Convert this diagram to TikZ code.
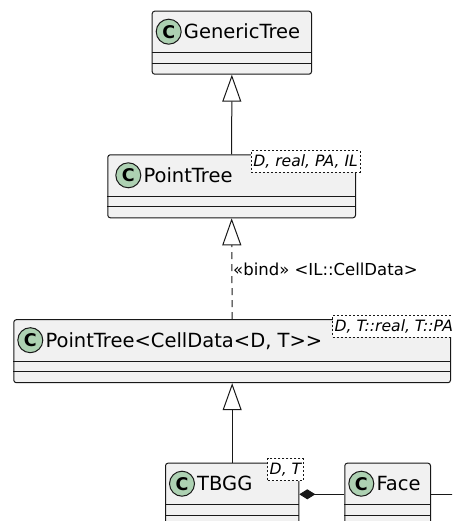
\documentclass[tikz,border=0pt]{standalone}
\usepackage{fontspec}
\setmainfont{DejaVu Sans}
\usetikzlibrary{arrows.meta}
\definecolor{boxfill}{HTML}{F1F1F1}
\definecolor{ink}{HTML}{181818}
\definecolor{spotgreen}{HTML}{ADD1B2}

\tikzset{
  classbox/.style={draw=ink, fill=boxfill, line width=1pt, rounded corners=2.5pt,
    inner sep=0pt, anchor=north west},
  spotc/.style={circle, draw=ink, fill=spotgreen, line width=1pt, minimum size=25pt,
    inner sep=0pt, font=\fontsize{17.5}{17.5}\selectfont\bfseries},
  cname/.style={anchor=base west, inner sep=0pt, font=\fontsize{19.5}{22}\selectfont},
  tparam/.style={draw=ink, dash pattern=on 2pt off 2pt, fill=white, line width=0.8pt,
    anchor=north east, inner xsep=2pt, inner ysep=0pt, minimum height=21.7pt,
    font=\fontsize{15.6}{18}\selectfont\itshape},
  divider/.style={draw=ink, line width=1pt},
  inherit/.style={draw=ink, line width=1pt,
    -{Triangle[open, length=27pt, width=19pt, fill=white]}},
  bindline/.style={inherit, dash pattern=on 7pt off 5pt},
  compose/.style={draw=ink, line width=1pt, -{Diamond[length=16pt, width=10pt, fill=ink]}},
  assoc/.style={draw=ink, line width=1pt},
  linklabel/.style={anchor=west, inner sep=0pt, font=\fontsize{16.5}{20}\selectfont},
}

% class box: #1 name, #2 left, #3 top (downwards), #4 width, #5 header indent, #6 title
\newcommand\umlclass[6]{%
  \node[classbox, minimum width=#4pt, minimum height=63pt] (#1) at (#2pt,-#3pt) {};
  \node[spotc] (#1-spot) at ([xshift=#5pt+17pt,yshift=-21pt]#1.north west) {C};
  \node[cname] (#1-name) at ([xshift=#5pt+32pt,yshift=-28pt]#1.north west) {#6};
  \draw[divider] ([yshift=-42pt]#1.north west) -- ([yshift=-42pt]#1.north east);
  \draw[divider] ([yshift=-52.5pt]#1.north west) -- ([yshift=-52.5pt]#1.north east);
}
% template parameter box at the upper right corner of a class
\newcommand\umlparams[2]{%
  \node[tparam] (#1-params) at ([xshift=4.3pt,yshift=4.3pt]#1.north east) {#2};
}

\begin{document}
\begin{tikzpicture}[x=1pt,y=1pt]
\useasboundingbox (0,0) rectangle (452,-521);
\clip (0,0) rectangle (452,-521);

\umlclass{gt}{151.7}{10.7}{159.3}{0}{GenericTree}
\umlclass{pt}{107.3}{154.3}{247.7}{4}{PointTree}
\umlparams{pt}{D, real, PA, IL}
\umlclass{ptc}{13.3}{319.2}{436.7}{0}{PointTree<CellData<D, T>\kern0pt>}
\umlparams{ptc}{D, T::real, T::PA}
\umlclass{tbgg}{165}{462.7}{133.3}{0}{TBGG}
\umlparams{tbgg}{D, T}
\umlclass{face}{344.3}{462.7}{85.7}{0}{Face}

% generalisations
\draw[inherit] (pt.north) -- (gt.south);
\draw[bindline] (ptc.north) -- (pt.south);
\node[linklabel] (bindlbl) at (233,-269) {«bind» <IL::CellData>};
\draw[inherit] (tbgg.north) -- (ptc.south);

% composition and outgoing association of Face
\coordinate (compy) at (0,-494.3);
\draw[compose] (face.west |- compy) -- (tbgg.east |- compy);
\coordinate (faceout) at (470,-494.3);
\draw[assoc] (face.east |- faceout) -- (faceout);
\end{tikzpicture}
\end{document}
